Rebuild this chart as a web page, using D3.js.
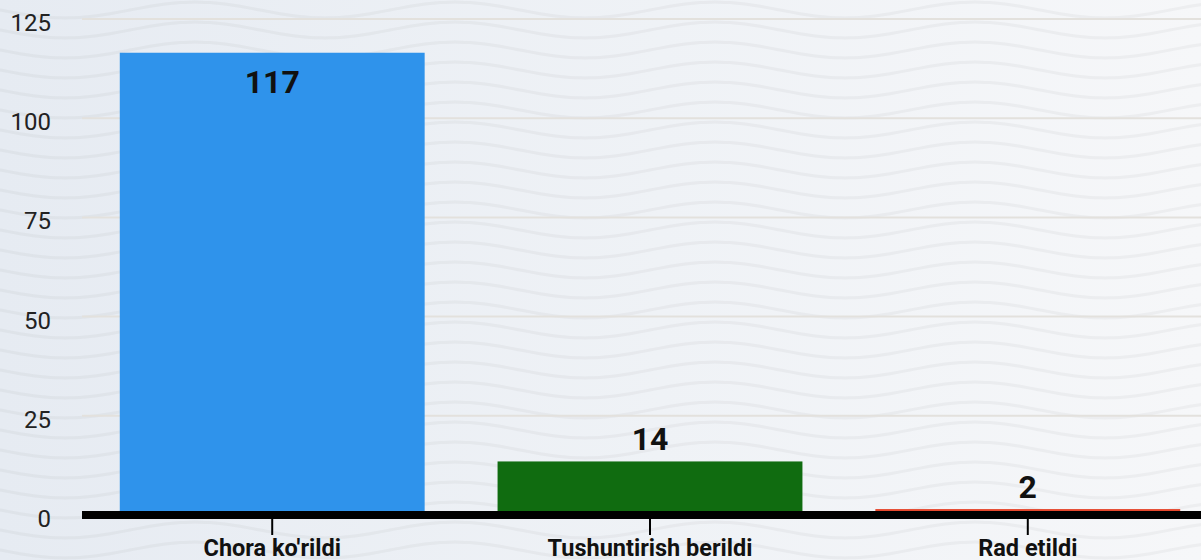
<html>
<head>
<meta charset="utf-8">
<title>Murojaatlar natijasi</title>
<style>
body {
  margin: 0;
  width: 1201px;
  height: 560px;
  overflow: hidden;
  font-family: Roboto, "Noto Sans", sans-serif;
}
svg { display: block; }
.ytick text { font-size: 24px; fill: #222; }
.xlabel { font-size: 23.5px; font-weight: 700; fill: #111; }
.vlabel { font-size: 32px; font-weight: 700; fill: #111; }
</style>
</head>
<body>
<div id="vis"></div>

<script src="https://cdnjs.cloudflare.com/ajax/libs/d3/7.8.5/d3.min.js"></script>
<script>

// data
var categories = ["Chora ko'rildi", "Tushuntirish berildi", "Rad etildi"];
var values = [117, 14, 2];
var yTicks = [0, 25, 50, 75, 100, 125];

var barColors = ["#2f93eb", "#106c10", "#e5472d"];

var width = 1201, height = 560;

var svg = d3.select("#vis").append("svg")
    .attr("width", width)
    .attr("height", height);

var defs = svg.append("defs");

// background gradient
var grad = defs.append("linearGradient")
    .attr("id", "bg")
    .attr("x1", 0).attr("x2", 1).attr("y1", 0).attr("y2", 0);
grad.append("stop").attr("offset", "0%").attr("stop-color", "#e6ebf2");
grad.append("stop").attr("offset", "55%").attr("stop-color", "#eff2f6");
grad.append("stop").attr("offset", "100%").attr("stop-color", "#f6f7f9");

// wavy pattern
var pat = defs.append("pattern")
    .attr("id", "waves")
    .attr("patternUnits", "userSpaceOnUse")
    .attr("width", 260)
    .attr("height", 20);

var wave = d3.line().curve(d3.curveBasis);
[-20, 0, 20].forEach(function(off) {
  var pts = d3.range(0, 261, 10).map(function(x) {
    return [x, 10 + off + 8 * Math.sin(x / 260 * 2 * Math.PI)];
  });
  pat.append("path")
      .attr("d", wave(pts))
      .attr("fill", "none")
      .attr("stroke", "#000")
      .attr("stroke-opacity", 0.035)
      .attr("stroke-width", 3);
});

svg.append("rect").attr("width", width).attr("height", height).attr("fill", "url(#bg)");
svg.append("rect").attr("width", width).attr("height", height).attr("fill", "url(#waves)");

// scales
var x = d3.scaleBand()
    .domain(categories)
    .range([82, 1218])
    .paddingInner(0.193)
    .paddingOuter(0.1);

var y = d3.scaleLinear()
    .domain([0, 125])
    .range([517, 21]);

// gridlines + y labels
var yt = svg.append("g").attr("class", "ytick")
  .selectAll("g")
  .data(yTicks)
  .enter().append("g")
    .attr("transform", function(d) { return "translate(0," + (y(d) - 2) + ")"; });

yt.filter(function(d) { return d > 0; })
  .append("line")
    .attr("x1", 82).attr("x2", width)
    .attr("stroke", "#e3e1dd")
    .attr("stroke-width", 2);

yt.append("text")
    .attr("x", 51)
    .attr("y", 12)
    .attr("text-anchor", "end")
    .text(function(d) { return d; });

// bars
svg.append("g")
  .selectAll("rect")
  .data(values)
  .enter().append("rect")
    .attr("x", function(d, i) { return x(categories[i]); })
    .attr("width", x.bandwidth())
    .attr("y", function(d) { return y(d); })
    .attr("height", function(d) { return y(0) - y(d); })
    .attr("fill", function(d, i) { return barColors[i]; });

// value labels
svg.append("g")
  .selectAll("text")
  .data(values)
  .enter().append("text")
    .attr("class", "vlabel")
    .attr("text-anchor", "middle")
    .attr("x", function(d, i) { return x(categories[i]) + x.bandwidth() / 2; })
    .attr("y", function(d) {
      var top = y(d);
      return (y(0) - top > 60) ? top + 40 : top - 11;
    })
    .text(function(d) { return d; });

// x axis
svg.append("line")
    .attr("x1", 82).attr("x2", width)
    .attr("y1", 515).attr("y2", 515)
    .attr("stroke", "#000")
    .attr("stroke-width", 8);

var xt = svg.append("g")
  .selectAll("g")
  .data(categories)
  .enter().append("g")
    .attr("transform", function(d) { return "translate(" + (x(d) + x.bandwidth() / 2) + ",0)"; });

xt.append("line")
    .attr("y1", 519).attr("y2", 535)
    .attr("stroke", "#000")
    .attr("stroke-width", 2);

xt.append("text")
    .attr("class", "xlabel")
    .attr("text-anchor", "middle")
    .attr("y", 556)
    .text(function(d) { return d; });

</script>
</body>
</html>
